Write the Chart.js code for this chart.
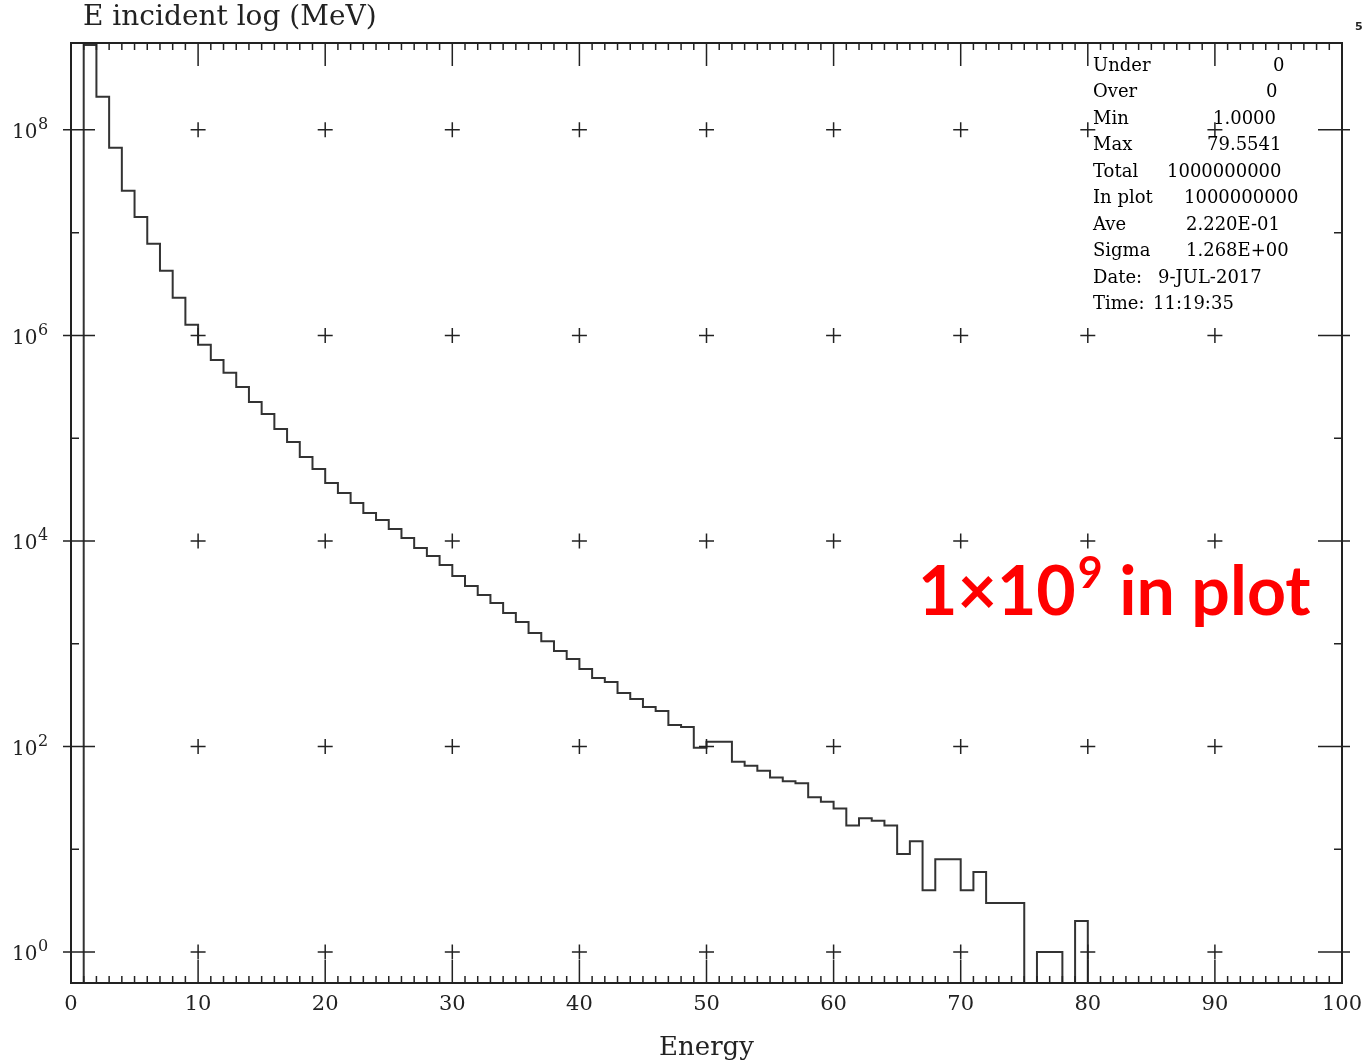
<!DOCTYPE html>
<html>
<head>
<meta charset="utf-8">
<script src="https://cdn.jsdelivr.net/npm/chart.js@4.4.1/dist/chart.umd.min.js"></script>
<style>
  html, body { margin: 0; padding: 0; background: #fff; }
</style>
</head>
<body>
<canvas id="chartCanvas" width="1365" height="1064"></canvas>
<script>
// DATA - counts per 1 MeV bin, bins 0-1 ... 99-100
const counts = [
  0, 6.7e8, 2.10e8, 6.68e7, 2.55e7, 1.42e7, 7.78e6, 4.25e6, 2.32e6, 1.27e6,
  8.09e5, 5.78e5, 4.32e5, 3.15e5, 2.25e5, 1.72e5, 1.23e5, 9.20e4, 6.57e4, 5.02e4,
  3.67e4, 2.93e4, 2.34e4, 1.87e4, 1.60e4, 1.31e4, 1.07e4, 8550, 7140, 5840,
  4560, 3650, 2980, 2490, 1990, 1630, 1270, 1060, 850, 711,
  568, 464, 424, 332, 290, 242, 222, 162, 155, 97,
  111, 111, 71, 65, 58, 50, 46, 44, 32, 29,
  25, 17, 20, 19, 17, 9, 12, 4, 8, 8,
  4, 6, 3, 3, 3, 0, 1, 1, 0, 2,
  0, 0, 0, 0, 0, 0, 0, 0, 0, 0,
  0, 0, 0, 0, 0, 0, 0, 0, 0, 0
];
const binWidth = 1;
const xTicks = [0, 10, 20, 30, 40, 50, 60, 70, 80, 90, 100];
const yTicks = [1, 1e2, 1e4, 1e6, 1e8];
const yMin = 0.5;
const yMax = 7e8;

const plotTitle = 'E incident log (MeV)';
const xTitle = 'Energy';
const statLabels = ['Under', 'Over', 'Min', 'Max', 'Total', 'In plot', 'Ave', 'Sigma', 'Date:', 'Time:'];
const statValues = ['0', '0', '1.0000', '79.5541', '1000000000', '1000000000', '2.220E-01', '1.268E+00', '9-JUL-2017', '11:19:35'];

// histogram points: each bin starts at its lower edge, plus closing edge
const histPoints = counts.map((c, i) => ({ x: i * binWidth, y: c > 0 ? c : yMin }));
histPoints.push({ x: counts.length * binWidth, y: histPoints[histPoints.length - 1].y });

const SERIF = '"DejaVu Serif", "Liberation Serif", serif';

// frame, inward ticks, crosses, labels, stats box
const decor = {
  id: 'decor',
  afterDatasetsDraw(chart) {
    const ctx = chart.ctx;
    const a = chart.chartArea;
    const x = chart.scales.x, y = chart.scales.y;
    ctx.save();
    ctx.strokeStyle = '#222';
    ctx.lineWidth = 2;
    ctx.strokeRect(a.left, a.top, a.right - a.left, a.bottom - a.top);

    ctx.lineWidth = 1.5;
    ctx.beginPath();
    for (let v = 0; v <= 100; v++) {
      const px = x.getPixelForValue(v);
      const len = v % 10 === 0 ? 23 : 7;
      ctx.moveTo(px, a.bottom); ctx.lineTo(px, a.bottom - len);
      ctx.moveTo(px, a.top); ctx.lineTo(px, a.top + len);
    }
    for (let e = 0; e <= 8; e++) {
      const py = y.getPixelForValue(Math.pow(10, e));
      if (e % 2 === 0) {
        ctx.moveTo(a.left - 8, py); ctx.lineTo(a.left + 24, py);
        ctx.moveTo(a.right - 24, py); ctx.lineTo(a.right + 8, py);
      } else {
        ctx.moveTo(a.left, py); ctx.lineTo(a.left + 8, py);
        ctx.moveTo(a.right - 8, py); ctx.lineTo(a.right, py);
      }
    }
    // grid crosses
    xTicks.slice(1, -1).forEach(xv => {
      const px = x.getPixelForValue(xv);
      yTicks.forEach(yv => {
        const py = y.getPixelForValue(yv);
        ctx.moveTo(px - 7.5, py); ctx.lineTo(px + 7.5, py);
        ctx.moveTo(px, py - 7.5); ctx.lineTo(px, py + 7.5);
      });
    });
    ctx.stroke();

    // y labels 10^n
    ctx.fillStyle = '#222';
    ctx.textBaseline = 'middle';
    ctx.textAlign = 'left';
    yTicks.forEach(yv => {
      const py = y.getPixelForValue(yv);
      ctx.font = '20px ' + SERIF;
      ctx.fillText('10', 12, py + 3);
      ctx.font = '16px ' + SERIF;
      ctx.fillText(String(Math.round(Math.log10(yv))), 38, py - 5);
    });

    // title
    ctx.font = '28px ' + SERIF;
    ctx.fillText(plotTitle, 83, 18);

    // page number
    ctx.font = 'bold 11px "DejaVu Sans", sans-serif';
    ctx.fillText('5', 1355, 27);

    // stats box
    const valX = [1273, 1266, 1213, 1207, 1167, 1184, 1186, 1186, 1158, 1153];
    ctx.font = '18px ' + SERIF;
    ctx.fillStyle = '#000';
    statLabels.forEach((s, i) => {
      const ty = 66 + i * 26.5;
      ctx.fillText(s, 1093, ty);
      ctx.fillText(statValues[i], valX[i], ty);
    });

    // red annotation
    ctx.fillStyle = '#ff0000';
    ctx.textBaseline = 'alphabetic';
    ctx.font = 'bold 68px Lato, "Noto Sans", sans-serif';
    let tx = 918;
    ctx.fillText('1\u00d710', tx, 615);
    tx += ctx.measureText('1\u00d710').width + 2;
    ctx.font = 'bold 43px Lato, "Noto Sans", sans-serif';
    ctx.fillText('9', tx, 588);
    tx += ctx.measureText('9').width;
    ctx.font = 'bold 68px Lato, "Noto Sans", sans-serif';
    ctx.fillText(' in plot', tx, 615);
    ctx.restore();
  }
};

new Chart(document.getElementById('chartCanvas'), {
  type: 'line',
  data: {
    datasets: [{
      data: histPoints,
      stepped: true,
      borderColor: '#333',
      borderWidth: 2,
      pointRadius: 0,
      fill: false
    }]
  },
  options: {
    responsive: false,
    animation: false,
    layout: { padding: { top: 43, right: 23, left: 0, bottom: 0 } },
    plugins: { legend: { display: false }, tooltip: { enabled: false } },
    scales: {
      x: {
        type: 'linear',
        min: 0,
        max: 100,
        afterBuildTicks: s => { s.ticks = xTicks.map(v => ({ value: v })); },
        afterFit: s => { s.height = 81; s.paddingLeft = 0; s.paddingRight = 0; },
        grid: { display: false, drawTicks: false, tickLength: 0 },
        border: { display: false },
        ticks: { font: { family: SERIF, size: 21 }, color: '#222', padding: 9, maxRotation: 0, autoSkip: false },
        title: { display: true, text: xTitle, font: { family: SERIF, size: 26 }, color: '#222', padding: { top: 0, bottom: 0 } }
      },
      y: {
        type: 'logarithmic',
        min: yMin,
        max: yMax,
        afterBuildTicks: s => { s.ticks = yTicks.map(v => ({ value: v })); },
        afterFit: s => { s.width = 71; s.paddingTop = 0; s.paddingBottom = 0; },
        grid: { display: false, drawTicks: false, tickLength: 0 },
        border: { display: false },
        ticks: { display: false }
      }
    }
  },
  plugins: [decor]
});
</script>
</body>
</html>
